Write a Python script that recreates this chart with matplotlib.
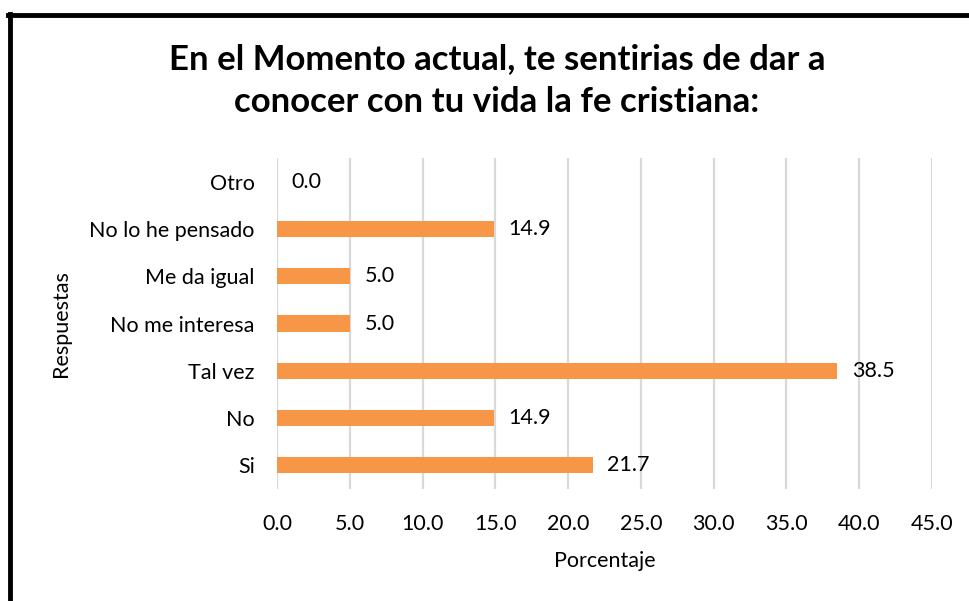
import matplotlib.pyplot as plt
from matplotlib.lines import Line2D

plt.rcParams['font.family'] = ['Lato', 'DejaVu Sans']

categorias = ['Si', 'No', 'Tal vez', 'No me interesa', 'Me da igual', 'No lo he pensado', 'Otro']
porcentajes = [21.7, 14.9, 38.5, 5.0, 5.0, 14.9, 0.0]
ticks_x = [0, 5, 10, 15, 20, 25, 30, 35, 40, 45]

fig = plt.figure(figsize=(9.69, 6.01), dpi=100)
ax = fig.add_axes([0.2859, 0.1864, 0.6759, 0.5506])

pos = range(len(categorias))
ax.barh(pos, porcentajes, height=0.34, color='#F79646', zorder=3)
for p, v in zip(pos, porcentajes):
    ax.text(v + 1.0, p, f'{v:.1f}', va='center', ha='left', fontsize=15.5, color='black')

ax.set_xlim(0, 45)
ax.set_ylim(-0.5, len(categorias) - 0.5)
ax.set_xticks(ticks_x)
ax.set_xticklabels([f'{t:.1f}' for t in ticks_x], fontsize=15.5)
ax.set_yticks(list(pos))
ax.set_yticklabels(categorias, fontsize=15.5)
ax.tick_params(length=0, pad=16)
ax.tick_params(axis='x', pad=18)
ax.grid(axis='x', color='#D9D9D9', linewidth=1.6, zorder=0)
for s in ax.spines.values():
    s.set_visible(False)

ax.set_xlabel('Porcentaje', fontsize=15.5, labelpad=12)
ax.set_ylabel('Respuestas', fontsize=15.5, labelpad=13)

fig.text(0.513, 0.866, 'En el Momento actual, te sentirias de dar a\nconocer con tu vida la fe cristiana:',
         ha='center', va='center', fontsize=25, fontweight='bold', linespacing=1.4)

# marco del grafico
fig.add_artist(Line2D([0.0105, 0.0105], [0, 0.977], color='black', linewidth=3.5, transform=fig.transFigure))
fig.add_artist(Line2D([0.0085, 1.0], [0.975, 0.975], color='black', linewidth=3.5, transform=fig.transFigure))

fig.savefig('out.png', dpi=100)
